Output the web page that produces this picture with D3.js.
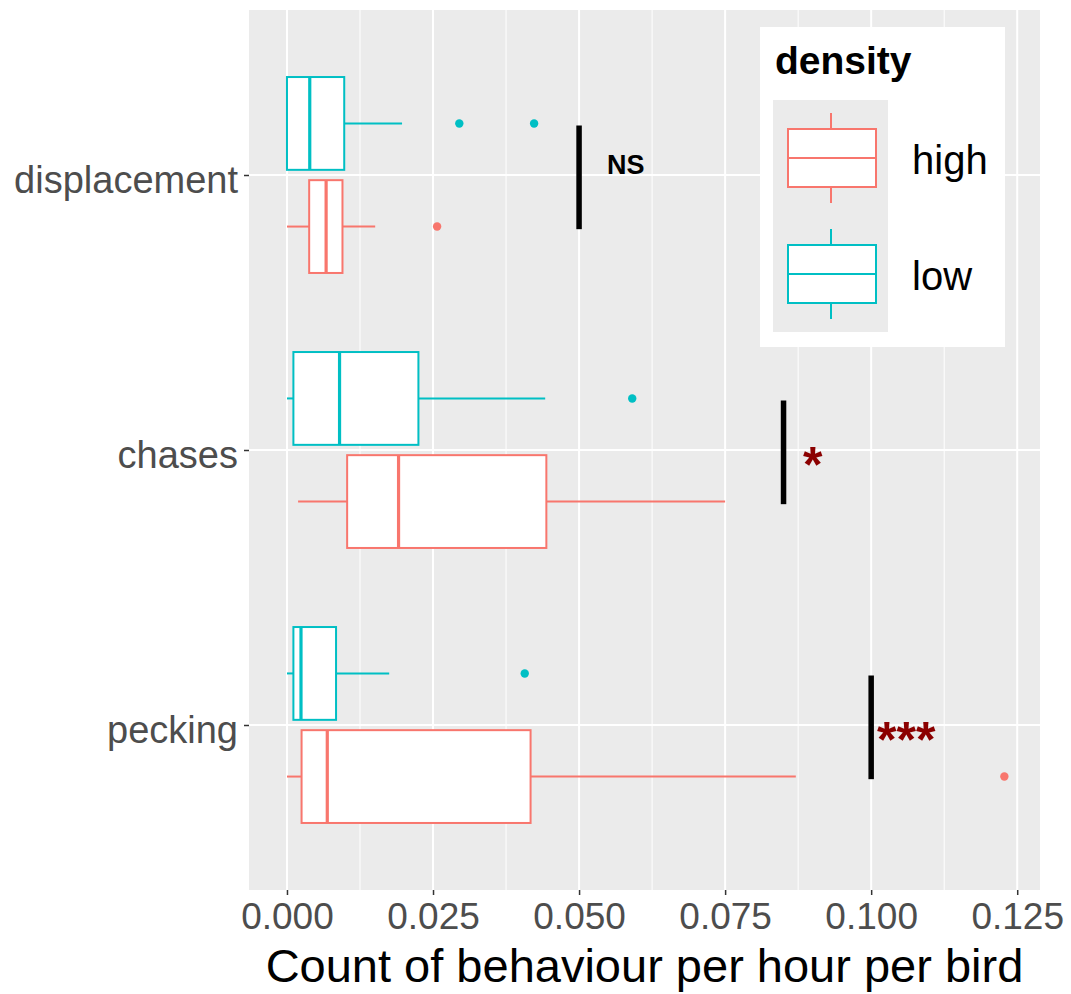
<!DOCTYPE html>
<html>
<head>
<meta charset="utf-8">
<script src="https://cdn.jsdelivr.net/npm/d3@7"></script>
<style>
  body { margin: 0; background: #ffffff; }
  text { font-family: "Liberation Sans", Arial, sans-serif; }
</style>
</head>
<body>
<div id="chart"></div>
<script>
// behaviour categories, top to bottom
var categories = ["displacement", "chases", "pecking"];
var densities = ["high", "low"];
var densityColors = ["#F8766D", "#00BFC4"];

// box summaries for "high" density, one value per category
var highMin = [0.0000, 0.0019, 0.0000];
var highQ1 = [0.0038, 0.0103, 0.0025];
var highMedian = [0.0067, 0.0191, 0.0069];
var highQ3 = [0.0095, 0.0444, 0.0417];
var highMax = [0.0151, 0.0750, 0.0871];
var highOutliers = [[0.0257], [], [0.1228]];

// box summaries for "low" density
var lowMin = [0.0000, 0.0000, 0.0000];
var lowQ1 = [0.0000, 0.0011, 0.0011];
var lowMedian = [0.0039, 0.0090, 0.0024];
var lowQ3 = [0.0098, 0.0225, 0.0084];
var lowMax = [0.0197, 0.0442, 0.0175];
var lowOutliers = [[0.0295, 0.0423], [0.0591], [0.0407]];

// significance markers
var sigX = [0.05, 0.085, 0.1];
var sigLabels = ["NS", "*", "***"];
var sigLabelX = [0.058, 0.09, 0.106];

var xTicks = [0, 0.025, 0.05, 0.075, 0.1, 0.125];
var xMinorTicks = [0.0125, 0.0375, 0.0625, 0.0875, 0.1125];

var drawChart = function(){

    var width = 1071;
    var height = 994;
    var panel = {left: 249, right: 1040, top: 10, bottom: 890};
    var font = '"Liberation Sans", Arial, sans-serif';

    var svg = d3.select("#chart")
        .append("svg")
        .attr("width", width)
        .attr("height", height)
        .style("background-color", "#ffffff");

    var x = d3.scaleLinear()
        .domain([-0.0065, 0.1289])
        .range([panel.left, panel.right]);

    var y = d3.scalePoint()
        .domain(categories)
        .range([panel.top, panel.bottom])
        .padding(0.6);

    var step = y.step();
    var boxWidth = 0.3375 * step;
    // high sits below the category line, low above it
    var dodge = {high: 0.1875 * step, low: -0.1875 * step};

    // panel background
    svg.append("rect")
        .attr("x", panel.left)
        .attr("y", panel.top)
        .attr("width", panel.right - panel.left)
        .attr("height", panel.bottom - panel.top)
        .attr("fill", "#EBEBEB");

    // grid lines
    svg.append("g").selectAll("line")
        .data(xMinorTicks)
        .enter().append("line")
        .attr("x1", function(d){return x(d);})
        .attr("x2", function(d){return x(d);})
        .attr("y1", panel.top)
        .attr("y2", panel.bottom)
        .attr("stroke", "#ffffff")
        .attr("stroke-width", 1);

    svg.append("g").selectAll("line")
        .data(xTicks)
        .enter().append("line")
        .attr("x1", function(d){return x(d);})
        .attr("x2", function(d){return x(d);})
        .attr("y1", panel.top)
        .attr("y2", panel.bottom)
        .attr("stroke", "#ffffff")
        .attr("stroke-width", 2);

    svg.append("g").selectAll("line")
        .data(categories)
        .enter().append("line")
        .attr("x1", panel.left)
        .attr("x2", panel.right)
        .attr("y1", function(d){return y(d);})
        .attr("y2", function(d){return y(d);})
        .attr("stroke", "#ffffff")
        .attr("stroke-width", 2);

    // build box rows from the arrays
    var boxes = [];
    categories.forEach(function(c, i){
        boxes.push({cat: c, density: "low", min: lowMin[i], q1: lowQ1[i], med: lowMedian[i],
            q3: lowQ3[i], max: lowMax[i], out: lowOutliers[i], color: densityColors[1]});
        boxes.push({cat: c, density: "high", min: highMin[i], q1: highQ1[i], med: highMedian[i],
            q3: highQ3[i], max: highMax[i], out: highOutliers[i], color: densityColors[0]});
    });

    var g = svg.append("g");

    var box = g.selectAll("g.box")
        .data(boxes)
        .enter().append("g")
        .attr("class", "box");

    var cy = function(d){return y(d.cat) + dodge[d.density];};

    // whiskers
    box.append("line")
        .attr("x1", function(d){return x(d.min);})
        .attr("x2", function(d){return x(d.q1);})
        .attr("y1", cy).attr("y2", cy)
        .attr("stroke", function(d){return d.color;})
        .attr("stroke-width", 2);

    box.append("line")
        .attr("x1", function(d){return x(d.q3);})
        .attr("x2", function(d){return x(d.max);})
        .attr("y1", cy).attr("y2", cy)
        .attr("stroke", function(d){return d.color;})
        .attr("stroke-width", 2);

    box.append("rect")
        .attr("x", function(d){return x(d.q1);})
        .attr("y", function(d){return cy(d) - boxWidth / 2;})
        .attr("width", function(d){return x(d.q3) - x(d.q1);})
        .attr("height", boxWidth)
        .attr("fill", "#ffffff")
        .attr("stroke", function(d){return d.color;})
        .attr("stroke-width", 2);

    box.append("line")
        .attr("x1", function(d){return x(d.med);})
        .attr("x2", function(d){return x(d.med);})
        .attr("y1", function(d){return cy(d) - boxWidth / 2;})
        .attr("y2", function(d){return cy(d) + boxWidth / 2;})
        .attr("stroke", function(d){return d.color;})
        .attr("stroke-width", 3.2);

    box.selectAll("circle")
        .data(function(d){return d.out.map(function(v){return {v: v, d: d};});})
        .enter().append("circle")
        .attr("cx", function(o){return x(o.v);})
        .attr("cy", function(o){return cy(o.d);})
        .attr("r", 4.2)
        .attr("fill", function(o){return o.d.color;});

    // significance bars and labels
    var sig = categories.map(function(c, i){
        return {cat: c, x: sigX[i], label: sigLabels[i], lx: sigLabelX[i]};
    });

    g.selectAll("line.sig")
        .data(sig)
        .enter().append("line")
        .attr("class", "sig")
        .attr("x1", function(d){return x(d.x);})
        .attr("x2", function(d){return x(d.x);})
        .attr("y1", function(d){return y(d.cat) - 0.18 * step;})
        .attr("y2", function(d){return y(d.cat) + 0.197 * step;})
        .attr("stroke", "#000000")
        .attr("stroke-width", 5.5);

    g.selectAll("text.sig")
        .data(sig)
        .enter().append("text")
        .attr("class", "sig")
        .attr("x", function(d){return x(d.lx);})
        .attr("y", function(d){return d.label === "NS" ? y(d.cat) - 1 : y(d.cat) + 32;})
        .attr("text-anchor", "middle")
        .attr("font-weight", "bold")
        .attr("font-size", function(d){return d.label === "NS" ? 27 : 50;})
        .attr("fill", function(d){return d.label === "NS" ? "#000000" : "#8B0000";})
        .text(function(d){return d.label;});

    // axes
    var xAxis = svg.append("g")
        .attr("transform", "translate(0," + panel.bottom + ")")
        .call(d3.axisBottom(x).tickValues(xTicks).tickFormat(d3.format(".3f")).tickSize(5).tickPadding(8));

    var yAxis = svg.append("g")
        .attr("transform", "translate(" + panel.left + ",0)")
        .call(d3.axisLeft(y).tickSize(5).tickPadding(6));

    [xAxis, yAxis].forEach(function(a){
        a.select(".domain").remove();
        a.selectAll(".tick line").attr("stroke", "#333333").attr("stroke-width", 1.5);
        a.selectAll(".tick text")
            .attr("fill", "#4D4D4D")
            .style("font-family", font);
    });
    xAxis.selectAll(".tick text").style("font-size", "37px");
    yAxis.selectAll(".tick text").style("font-size", "38px").attr("dy", "0.45em");

    svg.append("text")
        .attr("x", (panel.left + panel.right) / 2)
        .attr("y", 982)
        .attr("text-anchor", "middle")
        .attr("font-size", 47)
        .attr("fill", "#000000")
        .text("Count of behaviour per hour per bird");

    // legend
    var legend = svg.append("g");

    legend.append("rect")
        .attr("x", 760).attr("y", 27)
        .attr("width", 245).attr("height", 320)
        .attr("fill", "#ffffff");

    legend.append("text")
        .attr("x", 775).attr("y", 74)
        .attr("font-weight", "bold")
        .attr("font-size", 39)
        .attr("fill", "#000000")
        .text("density");

    var keySize = 116;
    var key = legend.selectAll("g.key")
        .data(densities)
        .enter().append("g")
        .attr("class", "key")
        .attr("transform", function(d, i){return "translate(773," + (100 + i * keySize) + ")";});

    key.append("rect")
        .attr("width", 115).attr("height", keySize)
        .attr("fill", "#EBEBEB");

    key.append("line")
        .attr("x1", 58).attr("x2", 58)
        .attr("y1", 13).attr("y2", 103)
        .attr("stroke", function(d, i){return densityColors[i];})
        .attr("stroke-width", 2);

    key.append("rect")
        .attr("x", 15).attr("y", 29)
        .attr("width", 88).attr("height", 58)
        .attr("fill", "#ffffff")
        .attr("stroke", function(d, i){return densityColors[i];})
        .attr("stroke-width", 2);

    key.append("line")
        .attr("x1", 15).attr("x2", 103)
        .attr("y1", 58).attr("y2", 58)
        .attr("stroke", function(d, i){return densityColors[i];})
        .attr("stroke-width", 2);

    key.append("text")
        .attr("x", 139).attr("y", 74)
        .attr("font-size", 40)
        .attr("fill", "#000000")
        .text(function(d){return d;});
}

drawChart();
</script>
</body>
</html>
